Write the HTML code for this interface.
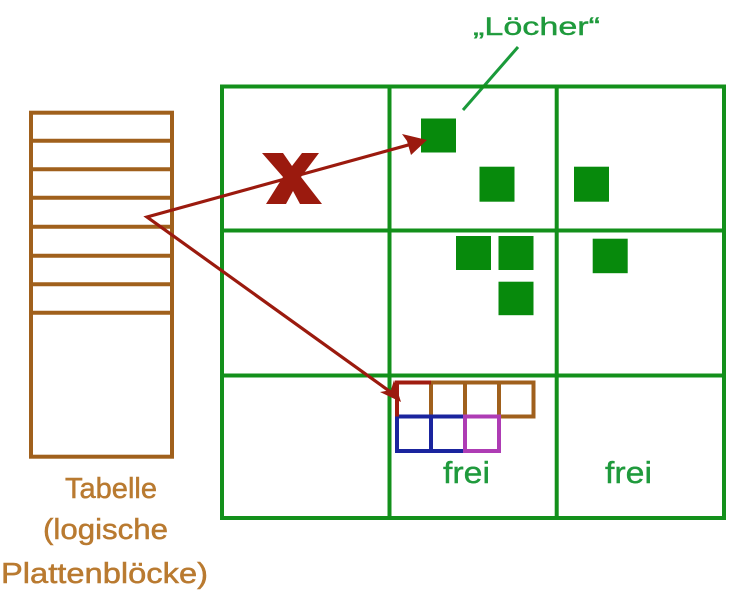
<!DOCTYPE html>
<html><head><meta charset="utf-8"><style>
html,body{margin:0;padding:0;background:#fff;}
svg{display:block;}
text{font-family:"Liberation Sans",sans-serif;}
</style></head><body>
<svg width="753" height="600" viewBox="0 0 753 600" xmlns="http://www.w3.org/2000/svg">
<rect width="753" height="600" fill="#fff"/>
<!-- label Löcher -->
<text x="473" y="35" font-size="25" fill="#1f9a3c" stroke="#1f9a3c" stroke-width="0.4" textLength="127" lengthAdjust="spacingAndGlyphs">„Löcher“</text>
<line x1="518" y1="47" x2="463" y2="110" stroke="#1a9a3a" stroke-width="3"/>

<!-- table -->
<g stroke="#a0601c" stroke-width="4" fill="none">
<rect x="31" y="112.7" width="141" height="344"/>
<line x1="31" y1="140.7" x2="172" y2="140.7"/>
<line x1="31" y1="169.3" x2="172" y2="169.3"/>
<line x1="31" y1="197.7" x2="172" y2="197.7"/>
<line x1="31" y1="226.7" x2="172" y2="226.7"/>
<line x1="31" y1="255.7" x2="172" y2="255.7"/>
<line x1="31" y1="284.3" x2="172" y2="284.3"/>
<line x1="31" y1="312.7" x2="172" y2="312.7"/>
</g>
<g fill="#b97a30" stroke="#b97a30" stroke-width="0.5" font-size="28.5">
<text x="65" y="498" textLength="92" lengthAdjust="spacingAndGlyphs">Tabelle</text>
<text x="43" y="539" textLength="125" lengthAdjust="spacingAndGlyphs">(logische</text>
<text x="1" y="583" textLength="207" lengthAdjust="spacingAndGlyphs">Plattenblöcke)</text>
</g>

<!-- grid -->
<g stroke="#13901b" stroke-width="4" fill="none">
<rect x="222" y="86.5" width="502" height="431.5"/>
<line x1="222" y1="230.5" x2="724" y2="230.5"/>
<line x1="222" y1="375.5" x2="724" y2="375.5"/>
<line x1="389.5" y1="86.5" x2="389.5" y2="518"/>
<line x1="556.7" y1="86.5" x2="556.7" y2="518"/>
</g>

<!-- holes -->
<g fill="#078a0c">
<rect x="421" y="118.5" width="35" height="34"/>
<rect x="479.5" y="166.7" width="35" height="35"/>
<rect x="574" y="166.7" width="35" height="35"/>
<rect x="456" y="236" width="35" height="34"/>
<rect x="498.5" y="236" width="35" height="34"/>
<rect x="592.7" y="238.7" width="35" height="34.5"/>
<rect x="498.5" y="281.7" width="35" height="33.5"/>
</g>

<!-- small blocks -->
<g fill="none" stroke-width="4">
<g stroke="#a0601c">
<rect x="431" y="382.5" width="34" height="34"/>
<rect x="465" y="382.5" width="34" height="34"/>
<rect x="499" y="382.5" width="34.5" height="34"/>
<line x1="397" y1="416.5" x2="431" y2="416.5"/>
</g>
<g stroke="#1a249e">
<rect x="397" y="416.5" width="34" height="34.5"/>
<rect x="431" y="416.5" width="34" height="34.5"/>
</g>
<rect x="465" y="416.5" width="34" height="34.5" stroke="#ae3cb4"/>
<polyline points="431,382.5 397,382.5 397,416.5" stroke="#a01c10"/>
</g>
<g fill="#1f9a3c" stroke="#1f9a3c" stroke-width="0.4" font-size="31">
<text x="443" y="483" textLength="47" lengthAdjust="spacingAndGlyphs">frei</text>
<text x="605" y="483" textLength="47" lengthAdjust="spacingAndGlyphs">frei</text>
</g>

<!-- arrows -->
<g stroke="#9b1a0e" stroke-width="3.2" fill="none" stroke-linecap="round">
<polyline points="418,142.3 147,217 392,393"/>
</g>
<g fill="#9b1a0e">
<polygon points="427,140 402,134 407,141 411,155"/>
<polygon points="401,402 394,380 391,390 380,392"/>
<polygon points="262,153 283,153 292,166 302,153 319,153 301,177 322,204 300,204 293,191 286,204 266,204 283,177"/>
</g>
</svg>
</body></html>
